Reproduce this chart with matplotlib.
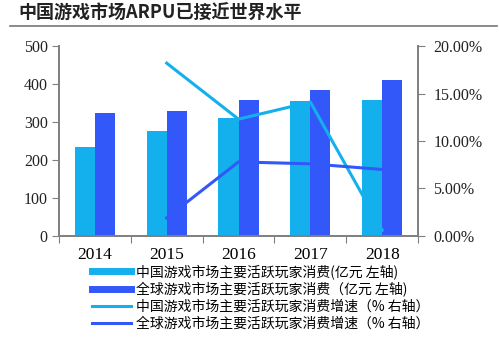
import matplotlib.pyplot as plt
import numpy as np
from matplotlib.ticker import FuncFormatter

plt.rcParams['font.family'] = ['Noto Sans CJK SC', 'DejaVu Sans']

years = ['2014', '2015', '2016', '2017', '2018']
china_spend = [234, 277, 311, 355, 357]
global_spend = [324, 330, 357, 383, 410]
china_growth = [np.nan, 18.2, 12.3, 14.1, 0.6]
global_growth = [np.nan, 1.9, 7.8, 7.6, 7.0]

labels = ['中国游戏市场主要活跃玩家消费(亿元 左轴)',
          '全球游戏市场主要活跃玩家消费（亿元 左轴)',
          '中国游戏市场主要活跃玩家消费增速（% 右轴）',
          '全球游戏市场主要活跃玩家消费增速（% 右轴）']

c_light = '#14b0ee'
c_dark = '#3358fa'
gray = '#808080'

fig = plt.figure(figsize=(4.99, 3.41), dpi=100)
fig.text(0.036, 0.962, '中国游戏市场ARPU已接近世界水平', fontsize=13, fontweight='bold',
         va='center', ha='left', color='#222222')
fig.add_artist(plt.Line2D([0.02, 0.995], [0.924, 0.924], color='#777777', lw=1.2))

ax = fig.add_axes([0.118, 0.308, 0.72, 0.557])
x = np.arange(len(years))
w = 0.28
ax.bar(x - w / 2, china_spend, w, color=c_light, zorder=2)
ax.bar(x + w / 2, global_spend, w, color=c_dark, zorder=2)
ax.set_ylim(0, 500)
ax.set_yticks(range(0, 501, 100))
ax.set_xlim(-0.5, 4.5)
ax.set_xticks(np.arange(-0.5, 5, 1))
ax.set_xticklabels([])
ax.set_xticks(x, minor=True)
ax.set_xticklabels(years, minor=True, fontsize=12.5, family='Liberation Serif')
ax.tick_params(axis='x', which='major', length=5, color=gray, direction='out')
ax.tick_params(axis='x', which='minor', length=0, pad=8)
ax.tick_params(axis='y', length=5, color=gray, labelsize=11.5, pad=3, labelcolor='#222222')
for t in ax.get_yticklabels():
    t.set_family('Liberation Serif')

ax2 = ax.twinx()
ax2.plot(x, china_growth, color=c_light, lw=2.2, zorder=3)
ax2.plot(x, global_growth, color=c_dark, lw=2.2, zorder=3)
ax2.set_ylim(0, 20)
ax2.set_yticks(range(0, 21, 5))
ax2.yaxis.set_major_formatter(FuncFormatter(lambda v, p: f'{v:.2f}%'))
ax2.tick_params(axis='y', length=5, color=gray, labelsize=11.5, pad=6, labelcolor='#222222')
for t in ax2.get_yticklabels():
    t.set_family('Liberation Serif')

for a in (ax, ax2):
    a.spines['top'].set_visible(False)
    for s in ('left', 'right', 'bottom'):
        a.spines[s].set_color(gray)
        a.spines[s].set_linewidth(1.3)

h1 = plt.Line2D([], [], color=c_light, lw=5)
h2 = plt.Line2D([], [], color=c_dark, lw=5)
h3 = plt.Line2D([], [], color=c_light, lw=2.2)
h4 = plt.Line2D([], [], color=c_dark, lw=2.2)
fig.legend([h1, h2, h3, h4], labels, loc='upper left', bbox_to_anchor=(0.184, 0.225),
           frameon=False, fontsize=10, handlelength=2.8, handletextpad=0.35,
           labelspacing=0.2, borderpad=0, borderaxespad=0)

fig.savefig('out.png', dpi=100)
